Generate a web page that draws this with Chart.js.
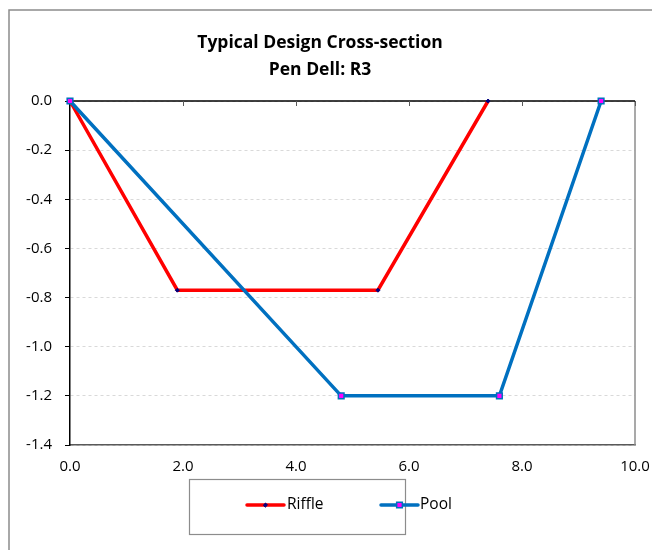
<!DOCTYPE html>
<html>
<head>
<meta charset="utf-8">
<script src="https://cdn.jsdelivr.net/npm/chart.js@4/dist/chart.umd.min.js"></script>
<style>
html,body{margin:0;padding:0;background:#fff;}
#wrap{width:652px;height:550px;position:relative;}
</style>
</head>
<body>
<div id="wrap"><canvas id="c" width="652" height="550"></canvas></div>
<script>
const titleLines = ["Typical Design Cross-section", "Pen Dell: R3"];
const seriesNames = ["Riffle", "Pool"];
const riffleX = [0, 1.9, 5.45, 7.4];
const riffleY = [0, -0.77, -0.77, 0];
const poolX = [0, 4.8, 7.6, 9.4];
const poolY = [0, -1.2, -1.2, 0];
const xTicks = [0, 2, 4, 6, 8, 10];
const yTicks = [0, -0.2, -0.4, -0.6, -0.8, -1.0, -1.2, -1.4];

const FONT = "'Open Sans', 'Liberation Sans', sans-serif";

function pts(xs, ys){ return xs.map((x,i)=>({x:x, y:ys[i]})); }

const framePlugin = {
  id: 'frame',
  beforeDraw(chart){
    const ctx = chart.ctx;
    ctx.save();
    ctx.fillStyle = '#fff';
    ctx.fillRect(0,0,chart.width,chart.height);
    ctx.strokeStyle = '#8c8c8c';
    ctx.lineWidth = 1.5;
    ctx.beginPath();
    ctx.moveTo(9, chart.height);
    ctx.lineTo(9, 10);
    ctx.lineTo(chart.width, 10);
    ctx.stroke();
    ctx.restore();
  },
  afterDraw(chart){
    const ctx = chart.ctx;
    ctx.save();
    ctx.fillStyle = '#000';
    ctx.font = "bold 17.5px " + FONT;
    ctx.textAlign = 'center';
    ctx.textBaseline = 'middle';
    ctx.fillText(titleLines[0], 320, 43);
    ctx.fillText(titleLines[1], 320, 70);
    ctx.strokeStyle = '#8c8c8c';
    ctx.lineWidth = 1.2;
    ctx.strokeRect(189.5, 479.5, 216, 55);
    const items = [{x0:247, x1:284, tx:287}, {x0:381, x1:418, tx:420}];
    const ly = 505;
    chart.data.datasets.forEach((ds, i) => {
      const it = items[i];
      ctx.strokeStyle = ds.borderColor;
      ctx.lineWidth = ds.borderWidth;
      ctx.lineCap = 'round';
      ctx.beginPath();
      ctx.moveTo(it.x0, ly); ctx.lineTo(it.x1, ly); ctx.stroke();
      ctx.fillStyle = ds.pointBackgroundColor;
      ctx.strokeStyle = ds.pointBorderColor;
      ctx.lineWidth = ds.pointBorderWidth;
      Chart.helpers.drawPoint(ctx, {pointStyle: ds.pointStyle, rotation: 0, radius: ds.pointRadius, borderWidth: ds.pointBorderWidth}, (it.x0+it.x1)/2, ly);
      ctx.fillStyle = '#000';
      ctx.font = "15.5px " + FONT;
      ctx.textAlign = 'left';
      ctx.textBaseline = 'middle';
      ctx.fillText(ds.label, it.tx, ly);
    });
    ctx.restore();
  },
  beforeDatasetsDraw(chart){
    const ctx = chart.ctx;
    const a = chart.chartArea;
    const xs = chart.scales.x;
    ctx.save();
    ctx.strokeStyle = '#8c8c8c';
    ctx.lineWidth = 1.5;
    ctx.beginPath();
    ctx.moveTo(a.right, a.top); ctx.lineTo(a.right, a.bottom); ctx.stroke();
    ctx.strokeStyle = '#000';
    ctx.lineWidth = 1.5;
    ctx.beginPath();
    ctx.moveTo(a.left, a.top); ctx.lineTo(a.right, a.top); ctx.stroke();
    ctx.strokeStyle = '#595959';
    ctx.lineWidth = 1;
    xs.ticks.forEach(t => {
      const px = Math.round(xs.getPixelForValue(t.value)) + 0.5;
      ctx.beginPath();
      ctx.moveTo(px, a.top); ctx.lineTo(px, a.top + 5); ctx.stroke();
    });
    ctx.restore();
  }
};

new Chart(document.getElementById('c'), {
  type: 'scatter',
  data: {
    datasets: [
      {
        label: seriesNames[0],
        data: pts(riffleX, riffleY),
        showLine: true,
        borderColor: '#FF0000',
        backgroundColor: '#FF0000',
        borderWidth: 3.5,
        pointStyle: 'rectRot',
        pointRadius: 2,
        pointBorderWidth: 1,
        pointBackgroundColor: '#000080',
        pointBorderColor: '#000080',
        clip: false,
        order: 1
      },
      {
        label: seriesNames[1],
        data: pts(poolX, poolY),
        showLine: true,
        borderColor: '#0070C0',
        backgroundColor: '#0070C0',
        borderWidth: 3.5,
        pointStyle: 'rect',
        pointRadius: 4,
        pointBorderWidth: 1.5,
        pointBackgroundColor: '#FF00FF',
        pointBorderColor: '#0070C0',
        clip: false,
        order: 0
      }
    ]
  },
  options: {
    responsive: false,
    animation: false,
    devicePixelRatio: 1,
    layout: { padding: { left: 0, top: 101, right: 17, bottom: 0 } },
    plugins: {
      legend: { display: false },
      title: { display: false },
      tooltip: { enabled: false }
    },
    elements: { line: { tension: 0 } },
    scales: {
      x: {
        type: 'linear',
        min: 0, max: 10,
        afterBuildTicks(s){ s.ticks = xTicks.map(v => ({value: v})); },
        afterFit(s){ s.height = 105; s.paddingLeft = 0; s.paddingRight = 0; },
        grid: { display: false, drawTicks: false },
        border: { display: true, color: '#595959', width: 1.5 },
        ticks: {
          padding: 13,
          color: '#000',
          font: { family: FONT, size: 15 },
          callback: v => Number(v).toFixed(1)
        }
      },
      y: {
        type: 'linear',
        min: -1.4, max: 0,
        afterBuildTicks(s){ s.ticks = yTicks.map(v => ({value: v})); },
        afterFit(s){ s.width = 70; s.paddingTop = 0; s.paddingBottom = 0; },
        grid: {
          display: true,
          color: '#d9d9d9',
          lineWidth: 1,
          drawTicks: true,
          tickLength: 5,
          tickColor: '#000',
          tickWidth: 1,
          tickBorderDash: []
        },
        border: { display: true, color: '#000', width: 1.5, dash: [3, 3] },
        ticks: {
          padding: 13,
          color: '#000',
          font: { family: FONT, size: 15 },
          callback: v => Number(v).toFixed(1)
        }
      }
    }
  },
  plugins: [framePlugin]
});
</script>
</body>
</html>
